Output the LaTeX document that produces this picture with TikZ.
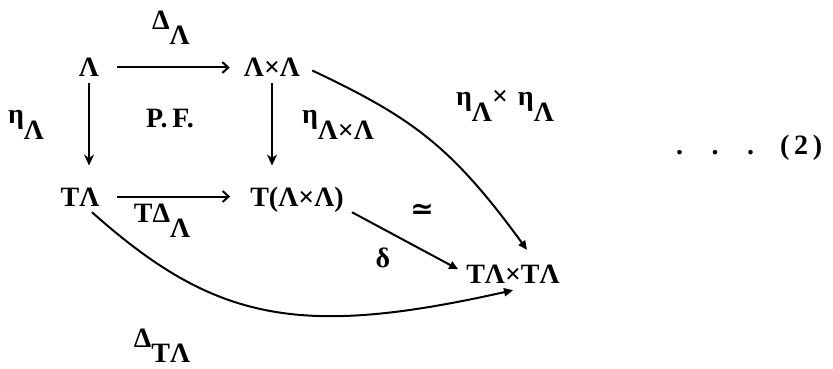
\documentclass[tikz,border=0pt]{standalone}
\usepackage{fontspec}
\newfontfamily\tw{Liberation Serif}
\newfontfamily\dv{DejaVu Sans}
\usetikzlibrary{arrows.meta,calc}
\newcommand\dnA[1]{\raisebox{-15pt}{#1}}
\newcommand\dnE[1]{\raisebox{-17pt}{#1}}
\begin{document}
\begin{tikzpicture}[x=1pt,y=-1pt,
  lbl/.style={inner sep=0pt, font=\tw\bfseries\fontsize{28}{32}\selectfont},
  obj/.style={lbl, anchor=base, text height=19pt, text depth=0pt},
  harr/.style={line width=2pt, -{Straight Barb[length=6pt,width=11pt,line width=2pt]}},
  varr/.style={line width=2pt, -{Stealth[length=11pt,width=10pt]}},
  carr/.style={line width=2pt, -{Triangle[length=9pt,width=8pt]}}]
\useasboundingbox (0,0) rectangle (833,369);
% objects
\node[obj] (A)    at (89,77)   {Λ};
\node[obj] (AA)   at (272,77)  {Λ×Λ};
\node[obj] (TA)   at (80,206)  {TΛ};
\node[obj] (TAA)  at (297,206) {T(Λ×Λ)};
\node[obj] (TATA) at (513,283) {TΛ×TΛ};
% arrows
\draw[harr, shorten <=18pt, shorten >=14pt] (A) -- (AA);
\draw[harr, shorten <=17pt, shorten >=20pt] (TA) -- (TAA);
\draw[varr, shorten <=6pt, shorten >=31pt] (A) -- (A |- TA);
\draw[varr, shorten <=6pt, shorten >=31pt] (AA) -- (AA |- TAA);
\draw[carr, shorten >=9pt] ($(TAA.south east)+(8,6)$) -- (TATA.west);
\draw[carr] ($(AA.east)+(12,3)$) .. controls (413,118) and (452,147) .. ($(TATA.north)+(14,-14)$);
\draw[carr] ($(TA.south)+(12,6)$) .. controls (215,322) and (300,338) .. ($(TATA.south)+(0,7)$);
% labels
\node[lbl, anchor=base] (lDA)  at (171,30)  {Δ\dnA{Λ}};
\node[lbl, anchor=base] (lEA)  at (26,123)  {η\dnE{Λ}};
\node[lbl, anchor=base] (lPF)  at (170,127) {P.\,F.};
\node[lbl, anchor=base] (lEAA) at (338,123) {η\dnE{Λ×Λ}};
\node[lbl, anchor=base] (lEE)  at (505,105) {η\dnE{Λ}×\hspace{10pt}η\dnE{Λ}};
\node[lbl, anchor=base] (lTD)  at (162,222) {TΔ\dnA{Λ}};
\node[lbl, anchor=base] (ld)   at (383,267) {δ};
\node[lbl, anchor=base] (lDT)  at (162,347) {Δ\dnA{TΛ}};
\node[inner sep=0pt, font=\dv\bfseries\fontsize{28}{32}\selectfont] (liso) at (422,211) {≃};
\node[lbl, anchor=base west] (eq) at (676,154) {.\hspace{28.5pt}.\hspace{28.5pt}.\hspace{26pt}(\,2\,)};
\end{tikzpicture}
\end{document}
